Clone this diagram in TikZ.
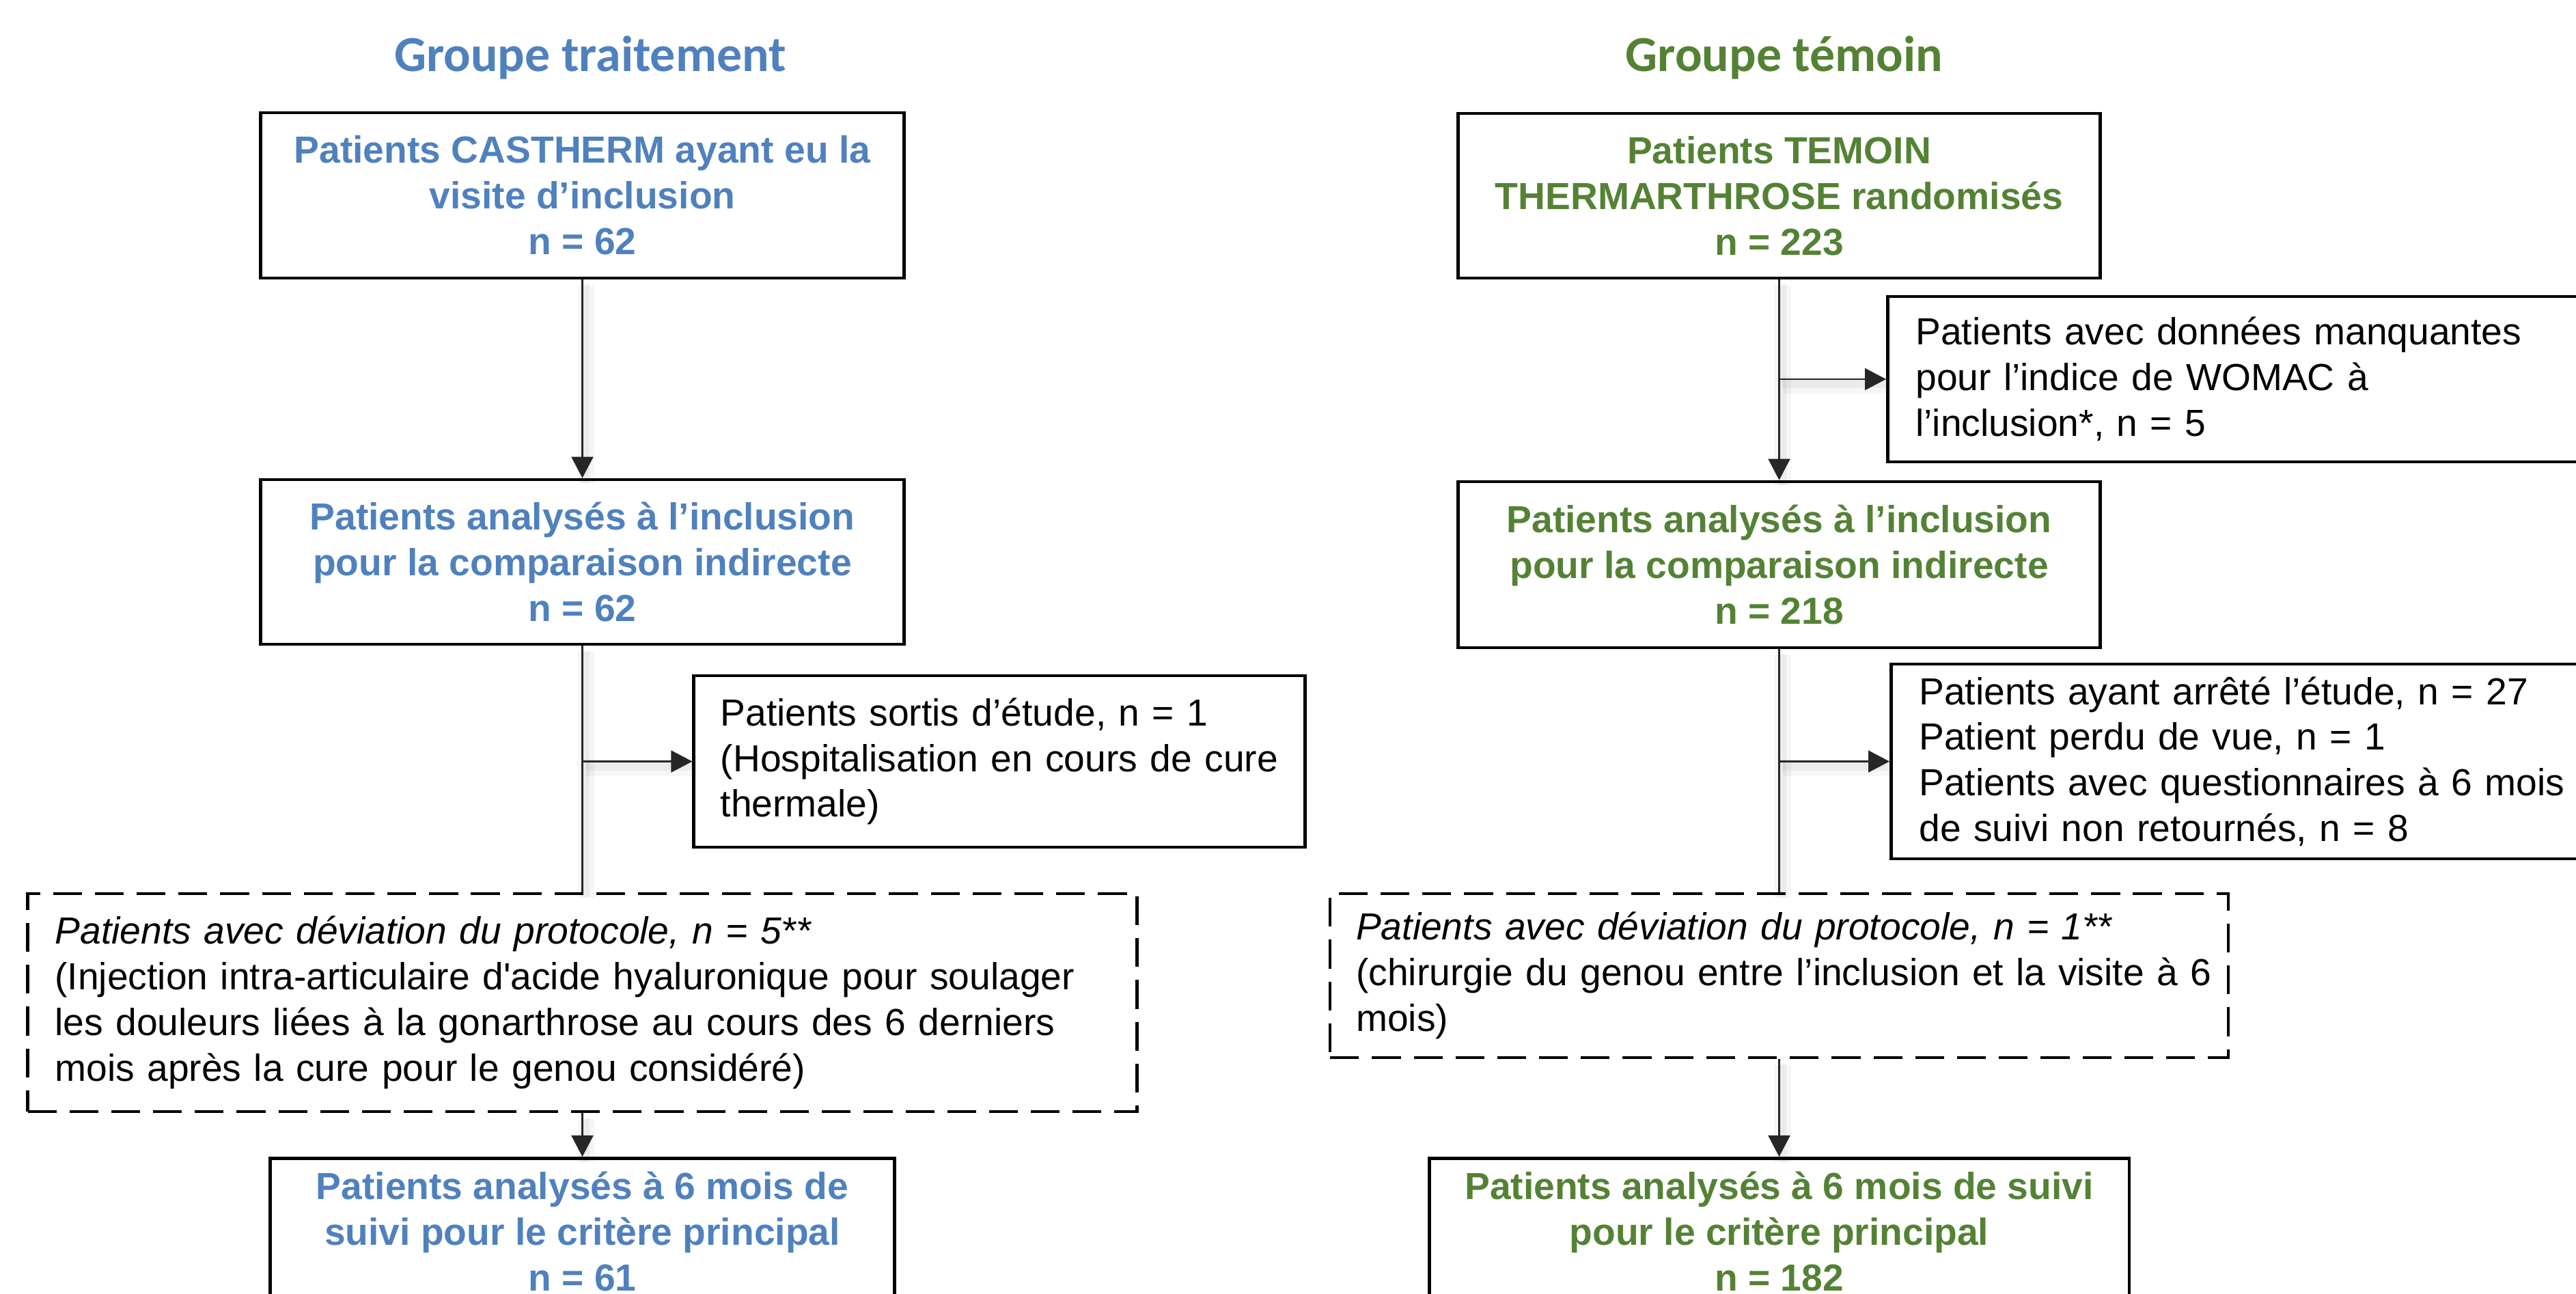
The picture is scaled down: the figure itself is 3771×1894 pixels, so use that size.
\documentclass[tikz,border=0pt]{standalone}
\usepackage{fontspec}
\setmainfont{Liberation Sans}
\newfontfamily\titlefont{Carlito}
\usetikzlibrary{arrows.meta}
\definecolor{tblue}{HTML}{4F81BD}
\definecolor{tgreen}{HTML}{548235}
\tikzset{
  boxframe/.style={draw=black, line width=1.3pt, inner sep=0pt},
  boldbox/.style={boxframe, align=center, font=\bfseries\fontsize{15.7}{19}\selectfont},
  leftbox/.style={boxframe, align=left, font=\fontsize{15.7}{19}\selectfont},
  dashbox/.style={leftbox, dash pattern=on 12pt off 5.4pt},
  grouptitle/.style={font=\titlefont\bfseries\fontsize{21}{25}\selectfont, inner sep=0pt},
  conn/.style={draw=black!85, line width=0.6pt,
    preaction={draw=black, draw opacity=0.035, line width=7pt, arrows=-,
      transform canvas={xshift=1.5pt, yshift=-2.5pt}},
    preaction={draw=black, draw opacity=0.045, line width=3.5pt, arrows=-,
      transform canvas={xshift=1.2pt, yshift=-2pt}}},
  arr/.style={conn, -{Triangle[length=0.31cm, width=0.32cm]}},
}
\begin{document}
\begin{tikzpicture}[x=0.01cm, y=-0.01cm]
\path[use as bounding box, clip] (0,0) rectangle (3771,1894);
\fill[white] (0,0) rectangle (3771,1894);

% titles
\node[grouptitle, text=tblue] (T1) at (864,84) {Groupe traitement};
\node[grouptitle, text=tgreen] (T2) at (2612,84) {Groupe témoin};

% left column
\node[boldbox, text=tblue, minimum width=9.41cm, minimum height=2.42cm] (L1) at (852.5,286)
  {Patients CASTHERM ayant eu la\\visite d’inclusion\\n = 62};
\node[boldbox, text=tblue, minimum width=9.41cm, minimum height=2.41cm] (L2) at (852.5,822.5)
  {Patients analysés à l’inclusion\\pour la comparaison indirecte\\n = 62};
\node[leftbox, text width=8.16cm, inner xsep=0.39cm, minimum height=2.51cm] (L3) at (1463,1114.5)
  {Patients sortis d’étude, n = 1\\(Hospitalisation en cours de cure\\thermale)};
\node[dashbox, text width=15.43cm, inner xsep=0.40cm, minimum height=3.19cm] (L4) at (852.5,1467.5)
  {\textit{Patients avec déviation du protocole, n = 5**}\\\mbox{(Injection intra-articulaire d\textquotesingle acide hyaluronique pour soulager}\\les douleurs liées à la gonarthrose au cours des 6 derniers\\mois après la cure pour le genou considéré)};
\node[boldbox, text=tblue, anchor=north, minimum width=9.13cm, minimum height=2.14cm] (L5) at (852.5,1693)
  {Patients analysés à 6 mois de\\suivi pour le critère principal\\n = 61};

% right column
\node[boldbox, text=tgreen, minimum width=9.39cm, minimum height=2.41cm] (R1) at (2604.5,286.5)
  {Patients TEMOIN\\THERMARTHROSE randomisés\\n = 223};
\node[leftbox, anchor=west, text width=10.57cm, inner xsep=0.41cm, minimum height=2.42cm] (Rx) at (2761,555)
  {Patients avec données manquantes\\pour l’indice de WOMAC à\\l’inclusion*, n = 5};
\node[boldbox, text=tgreen, minimum width=9.39cm, minimum height=2.43cm] (R2) at (2604.5,826.5)
  {Patients analysés à l’inclusion\\pour la comparaison indirecte\\n = 218};
\node[leftbox, anchor=west, text width=10.52cm, inner xsep=0.41cm, minimum height=2.85cm] (R3) at (2766,1114.5)
  {Patients ayant arrêté l’étude, n = 27\\Patient perdu de vue, n = 1\\Patients avec questionnaires à 6 mois\\de suivi non retournés, n = 8};
\node[dashbox, text width=12.38cm, inner xsep=0.38cm, minimum height=2.40cm] (R4) at (2604.5,1428)
  {\textit{Patients avec déviation du protocole, n = 1**}\\\mbox{(chirurgie du genou entre l’inclusion et la visite à 6}\\mois)};
\node[boldbox, text=tgreen, anchor=north, minimum width=10.24cm, minimum height=2.14cm] (R5) at (2604.5,1693)
  {Patients analysés à 6 mois de suivi\\pour le critère principal\\n = 182};

% connectors left
\draw[arr] (L1.south) -- (L2.north);
\draw[conn] (L2.south) -- (L4.north);
\draw[arr] (L2.south |- L3.west) -- (L3.west);
\draw[arr] (L4.south) -- (L5.north);

% connectors right
\draw[arr] (R1.south) -- (R2.north);
\draw[arr] (R1.south |- Rx.west) -- (Rx.west);
\draw[conn] (R2.south) -- (R4.north);
\draw[arr] (R2.south |- R3.west) -- (R3.west);
\draw[arr] (R4.south) -- (R5.north);
\end{tikzpicture}
\end{document}
